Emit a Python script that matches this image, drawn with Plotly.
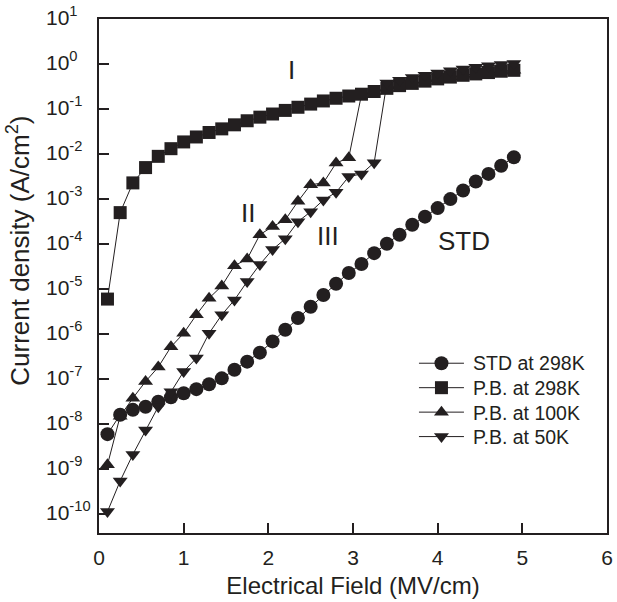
import plotly.graph_objects as go

# Electrical field (MV/cm)
field = [0.1, 0.25, 0.4, 0.55, 0.7, 0.85, 1.0, 1.15, 1.3, 1.45, 1.6, 1.75, 1.9, 2.05, 2.2,
         2.35, 2.5, 2.65, 2.8, 2.95, 3.1, 3.25, 3.4, 3.55, 3.7, 3.85, 4.0, 4.15, 4.3, 4.45,
         4.6, 4.75, 4.9]

# log10 of current density (A/cm^2)
std_298_log = [-8.22, -7.79, -7.68, -7.61, -7.50, -7.40, -7.31, -7.22, -7.11, -6.98, -6.79,
               -6.61, -6.41, -6.16, -5.90, -5.64, -5.39, -5.13, -4.88, -4.64, -4.44, -4.20,
               -3.99, -3.79, -3.57, -3.39, -3.20, -3.00, -2.81, -2.61, -2.44, -2.26, -2.07]
pb_298_log = [-5.22, -3.30, -2.64, -2.30, -2.05, -1.88, -1.73, -1.62, -1.52, -1.44, -1.35,
              -1.26, -1.18, -1.11, -1.03, -0.96, -0.89, -0.82, -0.76, -0.71, -0.67, -0.61,
              -0.54, -0.48, -0.43, -0.38, -0.33, -0.29, -0.25, -0.22, -0.19, -0.16, -0.14]
pb_100_log = [-8.90, -7.82, -7.42, -7.05, -6.73, -6.28, -5.98, -5.57, -5.20, -4.93, -4.48,
              -4.33, -3.79, -3.61, -3.46, -3.05, -2.68, -2.64, -2.20, -2.08, -0.68, -0.61,
              -0.54, -0.48, -0.43, -0.38, -0.33, -0.29, -0.25, -0.22, -0.19, -0.16, -0.14]
pb_50_log = [-9.94, -9.26, -8.67, -8.13, -7.61, -7.28, -6.83, -6.53, -5.98, -5.57, -5.24,
             -4.83, -4.45, -4.12, -3.88, -3.50, -3.28, -3.02, -2.85, -2.50, -2.44, -2.19,
             -0.42, -0.36, -0.30, -0.25, -0.20, -0.15, -0.11, -0.07, -0.04, -0.01, 0.01]

series_names = ["STD at 298K", "P.B. at 298K", "P.B. at 100K", "P.B. at 50K"]
x_ticks = [0, 1, 2, 3, 4, 5, 6]
y_tick_exps = [1, 0, -1, -2, -3, -4, -5, -6, -7, -8, -9, -10]
y_tick_text = ["10<sup>%d</sup>" % e for e in y_tick_exps]
region_labels = ["I", "II", "III", "STD"]
region_x = [2.27, 1.76, 2.70, 4.31]
region_logy = [-0.13, -3.30, -3.82, -3.94]

INK = "#231f20"
FONT = "Liberation Sans, Arial, sans-serif"

def to_lin(vals):
    return [10 ** v for v in vals]

fig = go.Figure()
specs = [
    (std_298_log, "circle", 14, 1),
    (pb_100_log, "triangle-up", 13, 3),
    (pb_298_log, "square", 13, 2),
    (pb_50_log, "triangle-down", 13, 4),
]
for vals, sym, size, rank in specs:
    # legend glyph from Plotly; the label text is set as an annotation (see below)
    fig.add_trace(go.Scatter(
        x=field, y=to_lin(vals), mode="lines+markers", name=" " * rank,
        legendrank=rank, hovertext=series_names[rank - 1],
        line=dict(color=INK, width=1),
        marker=dict(symbol=sym, size=size, color=INK, line=dict(width=0)),
    ))

ann_font = dict(family=FONT, size=26, color=INK)
for txt, ax, ay in zip(region_labels, region_x, region_logy):
    fig.add_annotation(x=ax, y=ay, text=txt, showarrow=False, font=ann_font,
                       xref="x", yref="y")

# left-aligned y tick labels
for e, t in zip(y_tick_exps, y_tick_text):
    fig.add_annotation(x=-0.109, y=e, xref="paper", yref="y", text=t, showarrow=False,
                       xanchor="left", yanchor="middle", yshift=3,
                       font=dict(family=FONT, size=21, color=INK))

# legend labels
legend_rows_y = [0.3307, 0.2821, 0.2335, 0.1868]
for name, ly in zip(series_names, legend_rows_y):
    fig.add_annotation(x=0.7315, y=ly, xref="paper", yref="paper", text=name,
                       showarrow=False, xanchor="left", yanchor="middle",
                       font=dict(family=FONT, size=19.5, color=INK))

# y axis title
fig.add_annotation(x=-0.160, y=0.5486, xref="paper", yref="paper",
                   text="Current density (A/cm<sup>2</sup>)", showarrow=False,
                   textangle=-90, xanchor="center", yanchor="middle",
                   font=dict(family=FONT, size=26, color=INK))

fig.update_layout(
    width=617, height=602,
    margin=dict(l=99, r=4, t=19, b=69),
    paper_bgcolor="white", plot_bgcolor="white",
    font=dict(family=FONT, color=INK, size=21),
    showlegend=True,
    legend=dict(x=0.62, y=0.3638, xanchor="left", yanchor="top",
                font=dict(family=FONT, size=16.5, color=INK),
                bgcolor="rgba(0,0,0,0)", tracegroupgap=0, itemwidth=45),
    xaxis=dict(range=[0, 6], tickvals=x_ticks, ticks="inside", ticklen=10, tickwidth=1.5,
               tickcolor=INK, showline=True, linewidth=2, linecolor=INK, mirror=True,
               showgrid=False, zeroline=False, ticklabelstandoff=5,
               tickfont=dict(size=21),
               title=dict(text="Electrical Field (MV/cm)", font=dict(size=24), standoff=9)),
    yaxis=dict(type="log", range=[-10.415, 1.0], tickvals=[10 ** e for e in y_tick_exps],
               showticklabels=False, ticks="inside", ticklen=10, tickwidth=1.5,
               tickcolor=INK, showline=True, linewidth=2, linecolor=INK, mirror=True,
               showgrid=False, zeroline=False),
)

fig.write_html("out.html")
